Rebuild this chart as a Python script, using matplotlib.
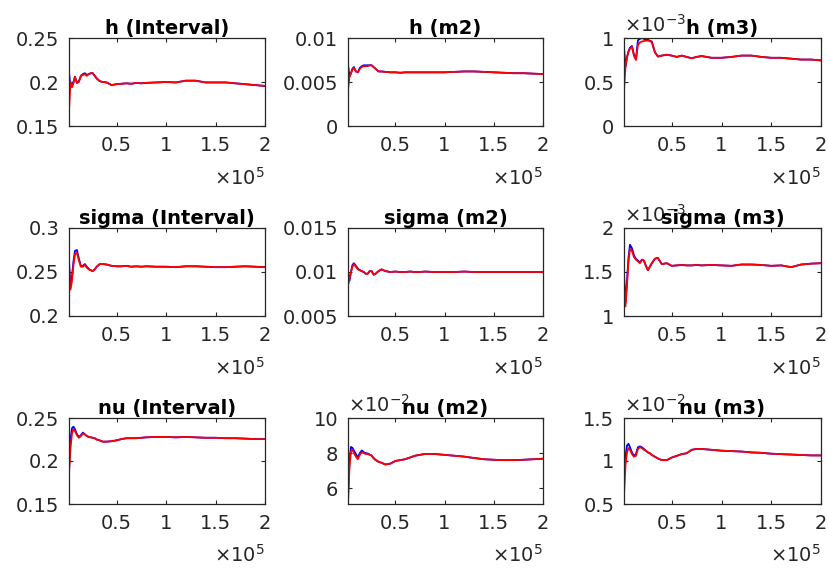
import matplotlib
matplotlib.use("Agg")
import matplotlib.pyplot as plt

plt.rcParams['font.family'] = ['DejaVu Sans']
plt.rcParams['mathtext.default'] = 'regular'

# ------------------------------------
# DATA (running means of the draws)
# ------------------------------------
iters = [2000, 3500, 5000, 6500, 8000, 10000, 12000, 14000, 16000, 18000,
         20000, 22000, 24000, 26000, 28000, 30000, 33000, 36000, 40000, 45000,
         50000, 55000, 60000, 65000, 70000, 75000, 80000, 90000, 100000, 110000,
         120000, 130000, 140000, 150000, 160000, 170000, 180000, 190000, 200000]

titles = ['h (Interval)', 'h (m2)', 'h (m3)',
          'sigma (Interval)', 'sigma (m2)', 'sigma (m3)',
          'nu (Interval)', 'nu (m2)', 'nu (m3)']

# h (Interval)
h_int_blue = [0.211, 0.195, 0.195, 0.200, 0.206, 0.199, 0.201, 0.207, 0.209, 0.210,
              0.208, 0.209, 0.210, 0.210, 0.207, 0.204, 0.201, 0.200, 0.1995, 0.1965,
              0.1975, 0.198, 0.1985, 0.198, 0.199, 0.1985, 0.199, 0.1995, 0.200, 0.1995,
              0.2015, 0.2015, 0.1995, 0.1995, 0.1995, 0.1985, 0.1975, 0.1965, 0.1955]
h_int_red = [0.168, 0.200, 0.194, 0.199, 0.206, 0.199, 0.200, 0.207, 0.208, 0.209,
             0.207, 0.209, 0.210, 0.210, 0.207, 0.204, 0.201, 0.200, 0.1995, 0.1965,
             0.1975, 0.198, 0.1985, 0.198, 0.199, 0.1985, 0.199, 0.1995, 0.200, 0.1995,
             0.2015, 0.2015, 0.1995, 0.1995, 0.1995, 0.1985, 0.1975, 0.1965, 0.1955]

# h (m2)
h_m2_blue = [0.0070, 0.0056, 0.0060, 0.0065, 0.0067, 0.0062, 0.0061, 0.0066, 0.0068, 0.0069,
             0.0069, 0.0069, 0.0069, 0.0069, 0.0067, 0.0065, 0.0062, 0.0062, 0.00615, 0.0061,
             0.0061, 0.00605, 0.0061, 0.0061, 0.0061, 0.0061, 0.0061, 0.0061, 0.0061, 0.00615,
             0.0062, 0.0062, 0.00615, 0.0061, 0.00605, 0.0060, 0.0060, 0.00595, 0.0059]
h_m2_red = [0.0041, 0.0056, 0.0060, 0.0064, 0.0066, 0.0062, 0.0061, 0.0065, 0.0067, 0.0068,
            0.0068, 0.0068, 0.0069, 0.0069, 0.0067, 0.0065, 0.0062, 0.0062, 0.00615, 0.0061,
            0.0061, 0.00605, 0.0061, 0.0061, 0.0061, 0.0061, 0.0061, 0.0061, 0.0061, 0.00615,
            0.0062, 0.0062, 0.00615, 0.0061, 0.00605, 0.0060, 0.0060, 0.00595, 0.0059]

# h (m3)
h_m3_blue = [0.00089, 0.00067, 0.00078, 0.00085, 0.00089, 0.00091, 0.00081, 0.00076, 0.000975, 0.00099,
             0.00100, 0.00099, 0.000985, 0.00098, 0.00097, 0.00096, 0.00084, 0.00079, 0.00080, 0.00081,
             0.00080, 0.000785, 0.00080, 0.000785, 0.00077, 0.000785, 0.000795, 0.000775, 0.000775, 0.000785,
             0.00080, 0.00080, 0.000785, 0.000775, 0.000775, 0.000765, 0.000755, 0.000755, 0.000745]
h_m3_red = [0.00041, 0.00068, 0.00078, 0.00084, 0.00088, 0.00090, 0.00080, 0.00075, 0.00092, 0.00095,
            0.00096, 0.000965, 0.00097, 0.00097, 0.000965, 0.00095, 0.00084, 0.00079, 0.00080, 0.00081,
            0.00080, 0.000785, 0.00080, 0.000785, 0.00077, 0.000785, 0.000795, 0.000775, 0.000775, 0.000785,
            0.00080, 0.00080, 0.000785, 0.000775, 0.000775, 0.000765, 0.000755, 0.000755, 0.000745]

# sigma (Interval)
s_int_blue = [0.262, 0.233, 0.245, 0.262, 0.274, 0.275, 0.265, 0.257, 0.257, 0.259,
              0.256, 0.2535, 0.252, 0.251, 0.253, 0.256, 0.259, 0.259, 0.2585, 0.257,
              0.2565, 0.2565, 0.257, 0.256, 0.2565, 0.256, 0.2565, 0.256, 0.256, 0.2555,
              0.2565, 0.2565, 0.256, 0.2555, 0.2555, 0.256, 0.2565, 0.256, 0.2555]
s_int_red = [0.255, 0.230, 0.240, 0.258, 0.270, 0.272, 0.263, 0.256, 0.256, 0.258,
             0.255, 0.253, 0.252, 0.251, 0.253, 0.256, 0.259, 0.259, 0.2585, 0.257,
             0.2565, 0.2565, 0.257, 0.256, 0.2565, 0.256, 0.2565, 0.256, 0.256, 0.2555,
             0.2565, 0.2565, 0.256, 0.2555, 0.2555, 0.256, 0.2565, 0.256, 0.2555]

# sigma (m2)
s_m2_blue = [0.0100, 0.0090, 0.0100, 0.0108, 0.0110, 0.0107, 0.0104, 0.0102, 0.0101, 0.0100,
             0.0098, 0.0098, 0.0101, 0.0101, 0.0097, 0.0098, 0.0101, 0.0103, 0.0101, 0.0100,
             0.01005, 0.0100, 0.0100, 0.01005, 0.0100, 0.0100, 0.01005, 0.0100, 0.0100, 0.0100,
             0.01005, 0.0100, 0.0100, 0.0100, 0.0100, 0.0100, 0.0100, 0.0100, 0.0100]
s_m2_red = [0.0085, 0.0092, 0.0100, 0.0106, 0.0109, 0.0106, 0.0103, 0.0102, 0.0101, 0.0100,
            0.0098, 0.0098, 0.0101, 0.0101, 0.0097, 0.0098, 0.0101, 0.0103, 0.0101, 0.0100,
            0.01005, 0.0100, 0.0100, 0.01005, 0.0100, 0.0100, 0.01005, 0.0100, 0.0100, 0.0100,
            0.01005, 0.0100, 0.0100, 0.0100, 0.0100, 0.0100, 0.0100, 0.0100, 0.0100]

# sigma (m3)
s_m3_blue = [0.00147, 0.00115, 0.00140, 0.00166, 0.00181, 0.00177, 0.00169, 0.00165, 0.00163, 0.00161,
             0.00164, 0.00163, 0.00157, 0.00152, 0.00156, 0.00160, 0.00165, 0.00166, 0.00159, 0.00160,
             0.00157, 0.001575, 0.00158, 0.001575, 0.001575, 0.00158, 0.001575, 0.00158, 0.001575, 0.00157,
             0.001585, 0.001585, 0.00158, 0.00157, 0.001575, 0.001555, 0.001585, 0.001595, 0.00160]
s_m3_red = [0.00138, 0.00111, 0.00135, 0.00162, 0.00176, 0.00174, 0.00167, 0.00164, 0.00162, 0.00160,
            0.00164, 0.00163, 0.00157, 0.00152, 0.00156, 0.00160, 0.00165, 0.00166, 0.00159, 0.00160,
            0.00157, 0.001575, 0.00158, 0.001575, 0.001575, 0.00158, 0.001575, 0.00158, 0.001575, 0.00157,
            0.001585, 0.001585, 0.00158, 0.00157, 0.001575, 0.001555, 0.001585, 0.001595, 0.00160]

# nu (Interval)
nu_int_blue = [0.190, 0.225, 0.238, 0.240, 0.237, 0.231, 0.228, 0.230, 0.233, 0.231,
               0.229, 0.228, 0.2275, 0.227, 0.2265, 0.225, 0.224, 0.2225, 0.2225, 0.223,
               0.224, 0.2255, 0.2265, 0.2265, 0.2265, 0.227, 0.2275, 0.228, 0.228, 0.2275,
               0.228, 0.2275, 0.227, 0.227, 0.2265, 0.2265, 0.226, 0.2255, 0.2255]
nu_int_red = [0.186, 0.215, 0.232, 0.237, 0.235, 0.230, 0.227, 0.229, 0.232, 0.231,
              0.229, 0.228, 0.2275, 0.227, 0.2265, 0.225, 0.224, 0.2225, 0.2225, 0.223,
              0.224, 0.2255, 0.2265, 0.2265, 0.2265, 0.227, 0.2275, 0.228, 0.228, 0.2275,
              0.228, 0.2275, 0.227, 0.227, 0.2265, 0.2265, 0.226, 0.2255, 0.2255]

# nu (m2)
nu_m2_blue = [0.056, 0.075, 0.0835, 0.083, 0.0815, 0.0795, 0.0775, 0.080, 0.0815, 0.0805,
              0.080, 0.0798, 0.0792, 0.0786, 0.0772, 0.0762, 0.0751, 0.0745, 0.0735, 0.074,
              0.0755, 0.076, 0.0765, 0.0775, 0.0785, 0.079, 0.0795, 0.0795, 0.079, 0.0785,
              0.078, 0.0772, 0.0765, 0.0762, 0.076, 0.076, 0.0762, 0.0765, 0.0768]
nu_m2_red = [0.0515, 0.072, 0.081, 0.082, 0.080, 0.078, 0.0765, 0.079, 0.0805, 0.080,
             0.0795, 0.0795, 0.079, 0.0785, 0.077, 0.076, 0.075, 0.0745, 0.0735, 0.074,
             0.0755, 0.076, 0.0765, 0.0775, 0.0785, 0.079, 0.0795, 0.0795, 0.079, 0.0785,
             0.078, 0.0772, 0.0765, 0.0762, 0.076, 0.076, 0.0762, 0.0765, 0.0768]

# nu (m3)
nu_m3_blue = [0.0095, 0.0105, 0.0118, 0.0120, 0.0116, 0.0110, 0.0106, 0.0108, 0.0116, 0.0117,
              0.0116, 0.0114, 0.0112, 0.0110, 0.0109, 0.0107, 0.0105, 0.0103, 0.0101, 0.0101,
              0.0104, 0.0106, 0.0108, 0.0109, 0.0113, 0.0114, 0.0114, 0.0113, 0.0112, 0.01115,
              0.0111, 0.0110, 0.01095, 0.01085, 0.0108, 0.01075, 0.0107, 0.01065, 0.01065]
nu_m3_red = [0.0060, 0.0095, 0.0110, 0.0115, 0.0113, 0.0108, 0.0105, 0.0106, 0.0114, 0.0116,
             0.0115, 0.0113, 0.0112, 0.0110, 0.0109, 0.0107, 0.0105, 0.0103, 0.0101, 0.0101,
             0.0104, 0.0106, 0.0108, 0.0109, 0.0113, 0.0114, 0.0114, 0.0113, 0.0112, 0.01115,
             0.0111, 0.0110, 0.01095, 0.01085, 0.0108, 0.01075, 0.0107, 0.01065, 0.01065]

blue_series = [h_int_blue, h_m2_blue, h_m3_blue, s_int_blue, s_m2_blue, s_m3_blue,
               nu_int_blue, nu_m2_blue, nu_m3_blue]
red_series = [h_int_red, h_m2_red, h_m3_red, s_int_red, s_m2_red, s_m3_red,
              nu_int_red, nu_m2_red, nu_m3_red]

# axis ticks / labels
x_ticks = [50000, 100000, 150000, 200000]
x_tick_labels = ['0.5', '1', '1.5', '2']

y_limits = [(0.15, 0.25), (0, 0.01), (0, 0.001),
            (0.2, 0.3), (0.005, 0.015), (0.001, 0.002),
            (0.15, 0.25), (0.051, 0.10), (0.005, 0.015)]
y_ticks = [[0.15, 0.2, 0.25], [0, 0.005, 0.01], [0, 0.0005, 0.001],
           [0.2, 0.25, 0.3], [0.005, 0.01, 0.015], [0.001, 0.0015, 0.002],
           [0.15, 0.2, 0.25], [0.06, 0.08, 0.10], [0.005, 0.01, 0.015]]
y_tick_labels = [['0.15', '0.2', '0.25'], ['0', '0.005', '0.01'], ['0', '0.5', '1'],
                 ['0.2', '0.25', '0.3'], ['0.005', '0.01', '0.015'], ['1', '1.5', '2'],
                 ['0.15', '0.2', '0.25'], ['6', '8', '10'], ['0.5', '1', '1.5']]
y_exponents = [None, None, '-3', None, None, '-3', None, '-2', '-2']

# ------------------------------------
# LAYOUT (pixel boxes of the 3x3 grid)
# ------------------------------------
W, H = 829, 570
col_left = [69, 348, 624]
col_width = [196, 195, 197]
row_top = [38, 228, 418]
row_height = [88, 88, 86]

AX_COLOR = '#262626'
FS = 14

fig = plt.figure(figsize=(W / 100, H / 100), dpi=100)

for i in range(9):
    r, c = divmod(i, 3)
    rect = [col_left[c] / W, 1 - (row_top[r] + row_height[r]) / H,
            col_width[c] / W, row_height[r] / H]
    ax = fig.add_axes(rect)

    ax.plot(iters, blue_series[i], color='blue', linewidth=1.3)
    ax.plot(iters, red_series[i], color='red', linewidth=1.3)

    ax.set_xlim(iters[0], iters[-1])
    ax.set_ylim(*y_limits[i])
    ax.set_xticks(x_ticks)
    ax.set_xticklabels(x_tick_labels)
    ax.set_yticks(y_ticks[i])
    ax.set_yticklabels(y_tick_labels[i])

    ax.tick_params(direction='in', length=3, width=0.8, top=True, right=True,
                   labelsize=FS, colors=AX_COLOR, pad=7)
    for sp in ax.spines.values():
        sp.set_color(AX_COLOR)
        sp.set_linewidth(0.9)

    ax.set_title(titles[i], fontsize=FS, fontweight='bold', color='black', pad=3)

    # MATLAB-style exponent labels
    ax.text(1.0, -0.67, '\u00d710$^{5}$', transform=ax.transAxes, ha='right',
            va='baseline', fontsize=FS, color=AX_COLOR)
    if y_exponents[i] is not None:
        ax.text(0.0, 1.07, '\u00d710$^{' + y_exponents[i] + '}$', transform=ax.transAxes,
                ha='left', va='baseline', fontsize=FS, color=AX_COLOR)

fig.savefig('out.png', dpi=100, facecolor='white')
